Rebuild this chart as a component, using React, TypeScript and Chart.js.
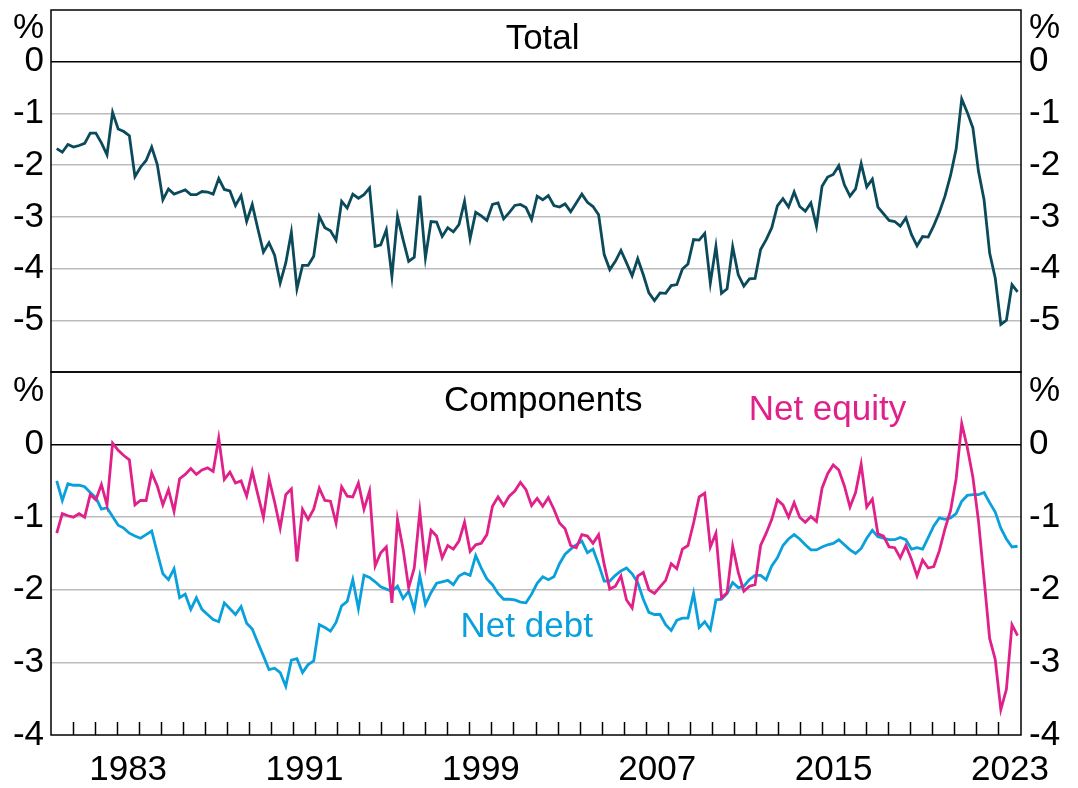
import React, { useEffect, useRef } from 'react';
import { Chart, registerables } from 'chart.js';

Chart.register(...registerables);

// ---- data (quarterly observations, per cent) ----
const X_START = 1980.26; // position of first observation (years)
const X_STEP = 0.2534; // spacing between observations (years)

const total = [
  -1.68, -1.75, -1.6, -1.65, -1.62, -1.58, -1.38, -1.38, -1.57, -1.8,
  -0.98, -1.3, -1.35, -1.43, -2.22, -2.04, -1.91, -1.65, -1.99, -2.67,
  -2.46, -2.56, -2.52, -2.48, -2.57, -2.57, -2.51, -2.52, -2.56, -2.26,
  -2.47, -2.5, -2.78, -2.59, -3.09, -2.76, -3.23, -3.68, -3.5, -3.74,
  -4.28, -3.89, -3.3, -4.39, -3.94, -3.94, -3.76, -2.99, -3.21, -3.27,
  -3.45, -2.7, -2.83, -2.56, -2.64, -2.57, -2.44, -3.57, -3.54, -3.25,
  -4.15, -2.99, -3.44, -3.86, -3.78, -2.59, -3.79, -3.09, -3.1, -3.38,
  -3.21, -3.29, -3.15, -2.7, -3.42, -2.91, -2.98, -3.07, -2.76, -2.73,
  -3.04, -2.92, -2.78, -2.76, -2.82, -3.05, -2.6, -2.67, -2.59, -2.78,
  -2.81, -2.75, -2.9, -2.73, -2.56, -2.72, -2.8, -2.96, -3.73, -4.02,
  -3.86, -3.65, -3.89, -4.14, -3.81, -4.12, -4.47, -4.62, -4.47, -4.48,
  -4.33, -4.31, -4.01, -3.91, -3.44, -3.45, -3.32, -4.28, -3.57, -4.48,
  -4.39, -3.58, -4.12, -4.34, -4.2, -4.19, -3.63, -3.44, -3.21, -2.79,
  -2.65, -2.81, -2.52, -2.8, -2.89, -2.73, -3.18, -2.41, -2.23, -2.18,
  -2.01, -2.38, -2.6, -2.46, -1.97, -2.42, -2.27, -2.81, -2.94, -3.07,
  -3.09, -3.18, -3.02, -3.34, -3.56, -3.38, -3.39, -3.17, -2.91, -2.6,
  -2.2, -1.69, -0.72, -0.98, -1.28, -2.12, -2.67, -3.7, -4.18, -5.08,
  -5.0, -4.31, -4.45,
];

const netEquity = [
  -1.22, -0.95, -0.98, -1.0, -0.95, -1.0, -0.69, -0.76, -0.55, -0.83,
  0.02, -0.08, -0.15, -0.21, -0.83, -0.77, -0.77, -0.39, -0.57, -0.83,
  -0.62, -0.92, -0.47, -0.41, -0.33, -0.41, -0.35, -0.32, -0.37, 0.09,
  -0.48, -0.38, -0.53, -0.5, -0.71, -0.37, -0.69, -1.0, -0.47, -0.79,
  -1.15, -0.69, -0.61, -1.61, -0.89, -1.03, -0.89, -0.6, -0.77, -0.78,
  -1.08, -0.58, -0.71, -0.72, -0.53, -0.89, -0.64, -1.67, -1.49, -1.41,
  -2.18, -1.03, -1.44, -1.97, -1.7, -0.92, -1.67, -1.18, -1.26, -1.56,
  -1.39, -1.44, -1.33, -1.07, -1.47, -1.38, -1.36, -1.24, -0.85, -0.72,
  -0.84, -0.71, -0.64, -0.52, -0.62, -0.84, -0.74, -0.85, -0.73, -0.89,
  -1.08, -1.16, -1.39, -1.42, -1.24, -1.26, -1.36, -1.24, -1.65, -1.99,
  -1.95, -1.81, -2.14, -2.25, -1.81, -1.76, -2.0, -2.05, -1.96, -1.87,
  -1.64, -1.71, -1.44, -1.39, -1.08, -0.72, -0.67, -1.41, -1.22, -2.11,
  -2.04, -1.4, -1.76, -2.02, -1.95, -1.93, -1.39, -1.22, -1.03, -0.76,
  -0.83, -1.0, -0.8, -1.0, -1.07, -0.99, -1.06, -0.6, -0.4, -0.28,
  -0.35, -0.57, -0.86, -0.66, -0.27, -0.86, -0.75, -1.23, -1.26, -1.41,
  -1.42, -1.56, -1.39, -1.58, -1.81, -1.59, -1.7, -1.68, -1.46, -1.16,
  -0.91, -0.47, 0.29, -0.04, -0.45, -1.05, -1.85, -2.67, -2.96, -3.65,
  -3.37, -2.48, -2.63,
];

const netDebt = [
  -0.5, -0.77, -0.54, -0.56, -0.56, -0.58, -0.66, -0.73, -0.89, -0.87,
  -0.99, -1.11, -1.15, -1.22, -1.26, -1.29, -1.24, -1.19, -1.49, -1.78,
  -1.86, -1.71, -2.11, -2.06, -2.27, -2.11, -2.27, -2.34, -2.41, -2.44,
  -2.18, -2.26, -2.34, -2.23, -2.46, -2.54, -2.73, -2.91, -3.1, -3.08,
  -3.14, -3.33, -2.97, -2.95, -3.14, -3.03, -2.98, -2.48, -2.52, -2.57,
  -2.45, -2.22, -2.16, -1.86, -2.26, -1.8, -1.83, -1.89, -1.96, -1.99,
  -2.02, -1.95, -2.12, -2.02, -2.27, -1.81, -2.2, -2.04, -1.91, -1.89,
  -1.87, -1.93, -1.81, -1.77, -1.8, -1.53, -1.7, -1.85, -1.93, -2.05,
  -2.13, -2.13, -2.14, -2.17, -2.18, -2.06, -1.91, -1.82, -1.86, -1.82,
  -1.64, -1.51, -1.44, -1.38, -1.33, -1.49, -1.44, -1.65, -1.88, -1.88,
  -1.8, -1.74, -1.7, -1.78, -1.9, -2.13, -2.31, -2.34, -2.34, -2.48,
  -2.56, -2.42, -2.39, -2.39, -2.05, -2.52, -2.44, -2.55, -2.14, -2.13,
  -2.05, -1.9, -1.97, -1.95, -1.86, -1.8, -1.8, -1.86, -1.67, -1.56,
  -1.39, -1.3, -1.24, -1.3, -1.38, -1.45, -1.45, -1.41, -1.38, -1.36,
  -1.31, -1.38, -1.45, -1.5, -1.43, -1.29, -1.18, -1.27, -1.29, -1.31,
  -1.31, -1.28, -1.31, -1.44, -1.42, -1.44, -1.28, -1.12, -1.01, -1.03,
  -1.01, -0.95, -0.78, -0.7, -0.69, -0.69, -0.66, -0.8, -0.93, -1.15,
  -1.3, -1.41, -1.4,
];

const topTicks = [-5, -4, -3, -2, -1, 0];
const bottomTicks = [-4, -3, -2, -1, 0];
const yearLabels = [1983, 1991, 1999, 2007, 2015, 2023];
const X_MIN = 1980;
const X_MAX = 2024;

const FONT = '"Liberation Sans", Arial, Helvetica, sans-serif';
const FS = 35;
const C_TOTAL = '#0b4a5a';
const C_EQUITY = '#e0218a';
const C_DEBT = '#0aa0dc';
const C_GRID = '#bcbcbc';

const toPoints = (vals: number[]) => vals.map((v, i) => ({ x: X_START + i * X_STEP, y: v }));

type Label = { text: string; x: number; y: number; color: string };

const textPlugin = (labels: Label[]) => ({
  id: 'panelText',
  afterDatasetsDraw(chart: any) {
    const { ctx, scales } = chart;
    ctx.save();
    ctx.font = `${FS}px ${FONT}`;
    ctx.textAlign = 'center';
    ctx.textBaseline = 'middle';
    labels.forEach((l) => {
      ctx.fillStyle = l.color;
      ctx.fillText(l.text, scales.x.getPixelForValue(l.x), scales.y.getPixelForValue(l.y));
    });
    ctx.restore();
  },
});

const framePlugin = {
  id: 'frame',
  afterDraw(chart: any) {
    const { ctx, chartArea: a } = chart;
    ctx.save();
    ctx.strokeStyle = '#000';
    ctx.lineWidth = 1.5;
    ctx.strokeRect(a.left, a.top, a.right - a.left, a.bottom - a.top);
    ctx.restore();
  },
};

function yAxis(position: 'left' | 'right', min: number, max: number, ticks: number[], pct: number, width: number, primary: boolean) {
  return {
    type: 'linear',
    position,
    min,
    max,
    afterFit: (s: any) => {
      s.width = width;
      s.paddingTop = 0;
      s.paddingBottom = 0;
    },
    afterBuildTicks: (s: any) => {
      s.ticks = [...ticks, pct].sort((a, b) => a - b).map((v) => ({ value: v }));
    },
    ticks: {
      autoSkip: false,
      padding: position === 'left' ? 7 : 8,
      color: '#000',
      font: { family: FONT, size: FS },
      callback: (v: number) => (v > 0.1 ? '%' : String(v)),
    },
    grid: {
      display: primary,
      drawTicks: false,
      lineWidth: 1.5,
      color: (c: any) => {
        const v = c.tick ? c.tick.value : null;
        if (v === 0) return '#000';
        if (v !== null && (v > 0.1 || v === min)) return 'rgba(0,0,0,0)';
        return C_GRID;
      },
    },
    border: { display: false },
  };
}

function lineDs(label: string, vals: number[], color: string) {
  return {
    label,
    data: toPoints(vals),
    borderColor: color,
    backgroundColor: color,
    borderWidth: 2.8,
    pointRadius: 0,
    tension: 0,
    fill: false,
  };
}

export default function App() {
  const topRef = useRef<HTMLCanvasElement>(null);
  const botRef = useRef<HTMLCanvasElement>(null);

  useEffect(() => {
    Chart.defaults.font.family = FONT;
    const topChart = new Chart(topRef.current as HTMLCanvasElement, {
      type: 'line',
      data: { datasets: [lineDs('Total', total, C_TOTAL)] as any },
      options: {
        responsive: false,
        animation: false,
        events: [],
        layout: { padding: { top: 10, bottom: 6, left: 0, right: 0 } },
        plugins: { legend: { display: false }, tooltip: { enabled: false } },
        scales: {
          x: { type: 'linear', min: X_MIN, max: X_MAX, display: false },
          y: yAxis('left', -6, 1, topTicks, 0.64, 51, true),
          yRight: yAxis('right', -6, 1, topTicks, 0.64, 57, false),
        } as any,
      },
      plugins: [textPlugin([{ text: 'Total', x: 2002.3, y: 0.44, color: '#000' }]), framePlugin],
    });

    const bottomChart = new Chart(botRef.current as HTMLCanvasElement, {
      type: 'line',
      data: {
        datasets: [lineDs('Net equity', netEquity, C_EQUITY), lineDs('Net debt', netDebt, C_DEBT)] as any,
      },
      options: {
        responsive: false,
        animation: false,
        events: [],
        layout: { padding: { top: 6, bottom: 0, left: 0, right: 0 } },
        plugins: { legend: { display: false }, tooltip: { enabled: false } },
        scales: {
          x: {
            type: 'linear',
            min: X_MIN,
            max: X_MAX,
            afterFit: (s: any) => {
              s.height = 53;
              s.paddingLeft = 0;
              s.paddingRight = 0;
            },
            afterBuildTicks: (s: any) => {
              const vals: number[] = [];
              for (let y = X_MIN + 1; y < X_MAX; y++) vals.push(y);
              yearLabels.forEach((y) => vals.push(y + 0.5));
              s.ticks = vals.sort((a, b) => a - b).map((v) => ({ value: v }));
            },
            ticks: {
              autoSkip: false,
              maxRotation: 0,
              minRotation: 0,
              padding: 27,
              color: '#000',
              font: { family: FONT, size: FS },
              callback: (v: number) => (v % 1 !== 0 ? String(Math.floor(v)) : ''),
            },
            grid: {
              display: true,
              drawOnChartArea: false,
              drawTicks: true,
              tickLength: -13,
              tickWidth: 1.5,
              tickColor: (c: any) => (c.tick && c.tick.value % 1 !== 0 ? 'rgba(0,0,0,0)' : '#000'),
            },
            border: { display: false },
          },
          y: yAxis('left', -4, 1, bottomTicks, 0.74, 51, true),
          yRight: yAxis('right', -4, 1, bottomTicks, 0.74, 57, false),
        } as any,
      },
      plugins: [
        textPlugin([
          { text: 'Components', x: 2002.33, y: 0.6, color: '#000' },
          { text: 'Net equity', x: 2015.22, y: 0.47, color: C_EQUITY },
          { text: 'Net debt', x: 2001.58, y: -2.52, color: C_DEBT },
        ]),
        framePlugin,
      ],
    });

    return () => {
      topChart.destroy();
      bottomChart.destroy();
    };
  }, []);

  return (
    <div style={{ position: 'absolute', left: 0, top: 0, width: 1078, height: 788, background: '#fff', overflow: 'hidden' }}>
      <canvas ref={topRef} width={1078} height={378} style={{ position: 'absolute', left: 0, top: 0 }} />
      <canvas ref={botRef} width={1078} height={422} style={{ position: 'absolute', left: 0, top: 366 }} />
    </div>
  );
}
